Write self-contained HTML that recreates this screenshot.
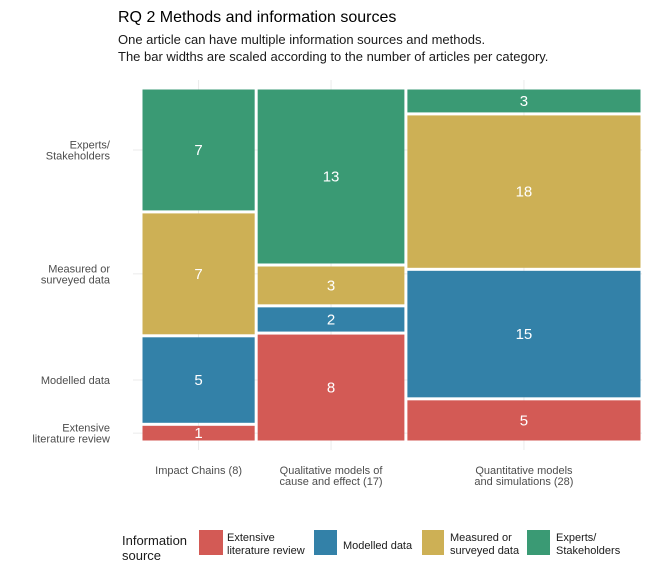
<!DOCTYPE html>
<html><head><meta charset="utf-8"><style>
body{margin:0;background:#fff;font-family:"Liberation Sans",Arial,sans-serif}
</style></head><body>
<svg id="c" width="672" height="576" xmlns="http://www.w3.org/2000/svg">
<text x="118" y="22" font-size="16" fill="#000">RQ 2 Methods and information sources</text>
<text x="118" y="44" font-size="13" fill="#1a1a1a">One article can have multiple information sources and methods.</text>
<text x="118" y="61" font-size="13" fill="#1a1a1a">The bar widths are scaled according to the number of articles per category.</text>
<g id="grid"></g><g id="bars"></g><g id="axes"></g>
<g font-size="11" fill="#1a1a1a">
<text x="122" y="545" font-size="13">Information</text>
<text x="122" y="560" font-size="13">source</text>
<rect x="199" y="530" width="24" height="25" fill="#d35a55"/>
<text x="227" y="541">Extensive</text>
<text x="227" y="554">literature review</text>
<rect x="314" y="530" width="23" height="25" fill="#3381a8"/>
<text x="343" y="549">Modelled data</text>
<rect x="422" y="530" width="22" height="25" fill="#cdb055"/>
<text x="450" y="541">Measured or</text>
<text x="450" y="554">surveyed data</text>
<rect x="527" y="530" width="23" height="25" fill="#3a9a74"/>
<text x="556" y="541">Experts/</text>
<text x="556" y="554">Stakeholders</text>
</g>
</svg>
<script>
const categories=["Impact Chains (8)","Qualitative models of|cause and effect (17)","Quantitative models|and simulations (28)"];
const sources=["Extensive|literature review","Modelled data","Measured or|surveyed data","Experts/|Stakeholders"];
const extensive=[1,8,5];
const modelled=[5,2,15];
const measured=[7,3,18];
const experts=[7,13,3];
const colors=["#d35a55","#3381a8","#cdb055","#3a9a74"];
const series=[extensive,modelled,measured,experts];
const X0=141,X1=642,Y0=88,Y1=442,NS="http://www.w3.org/2000/svg";
const totals=categories.map((c,i)=>series.reduce((s,a)=>s+a[i],0));
const grand=totals.reduce((a,b)=>a+b,0);
const xs=v=>X0+v/grand*(X1-X0);
const ys=(v,t)=>Y1-v/t*(Y1-Y0);
function mk(tag,attrs,parent){const e=document.createElementNS(NS,tag);for(const k in attrs)e.setAttribute(k,attrs[k]);document.getElementById(parent).appendChild(e);return e;}
function txt(lines,x,y,lh,attrs,parent){const t=mk("text",Object.assign({x:x,y:y},attrs),parent);lines.split("|").forEach((l,i)=>{const s=document.createElementNS(NS,"tspan");s.setAttribute("x",x);s.setAttribute("dy",i?lh:0);s.textContent=l;t.appendChild(s);});return t;}
let cx=0;
categories.forEach((cat,i)=>{
  const xa=xs(cx),xb=xs(cx+totals[i]),mid=(xa+xb)/2;
  const g=mk("line",{x1:mid,x2:mid,y1:Y0-8,y2:Y1+8,stroke:"#ebebeb"},"grid");
  
  
  let cy=0;
  series.forEach((s,j)=>{
    const v=s[i],ya=ys(cy+v,totals[i]),yb=ys(cy,totals[i]);
    const r=mk("rect",{x:xa+1.5,y:ya+1.5,width:xb-xa-3,height:Math.max(0,yb-ya-3),fill:colors[j]},"bars");
    
    
    const t=mk("text",{x:mid,y:(ya+yb)/2+5,"text-anchor":"middle","font-size":15,fill:"#fff"},"bars");
    t.textContent=v;
    
    
    if(i===0){
      const ym=(ya+yb)/2;
      const gl=mk("line",{x1:X0-8,x2:X1,y1:ym,y2:ym,stroke:"#ebebeb"},"grid");
      
      
      const n=s=>s.split("|").length;
      const yl=txt(sources[j],110,ym+4-(n(sources[j])-1)*5.5,11,{"text-anchor":"end","font-size":11,fill:"#4d4d4d"},"axes");
      
      
    }
    cy+=v;
  });
  const xl=txt(cat,mid,474,11,{"text-anchor":"middle","font-size":11,fill:"#4d4d4d"},"axes");
  
  
  cx+=totals[i];
});
</script>
</body></html>
